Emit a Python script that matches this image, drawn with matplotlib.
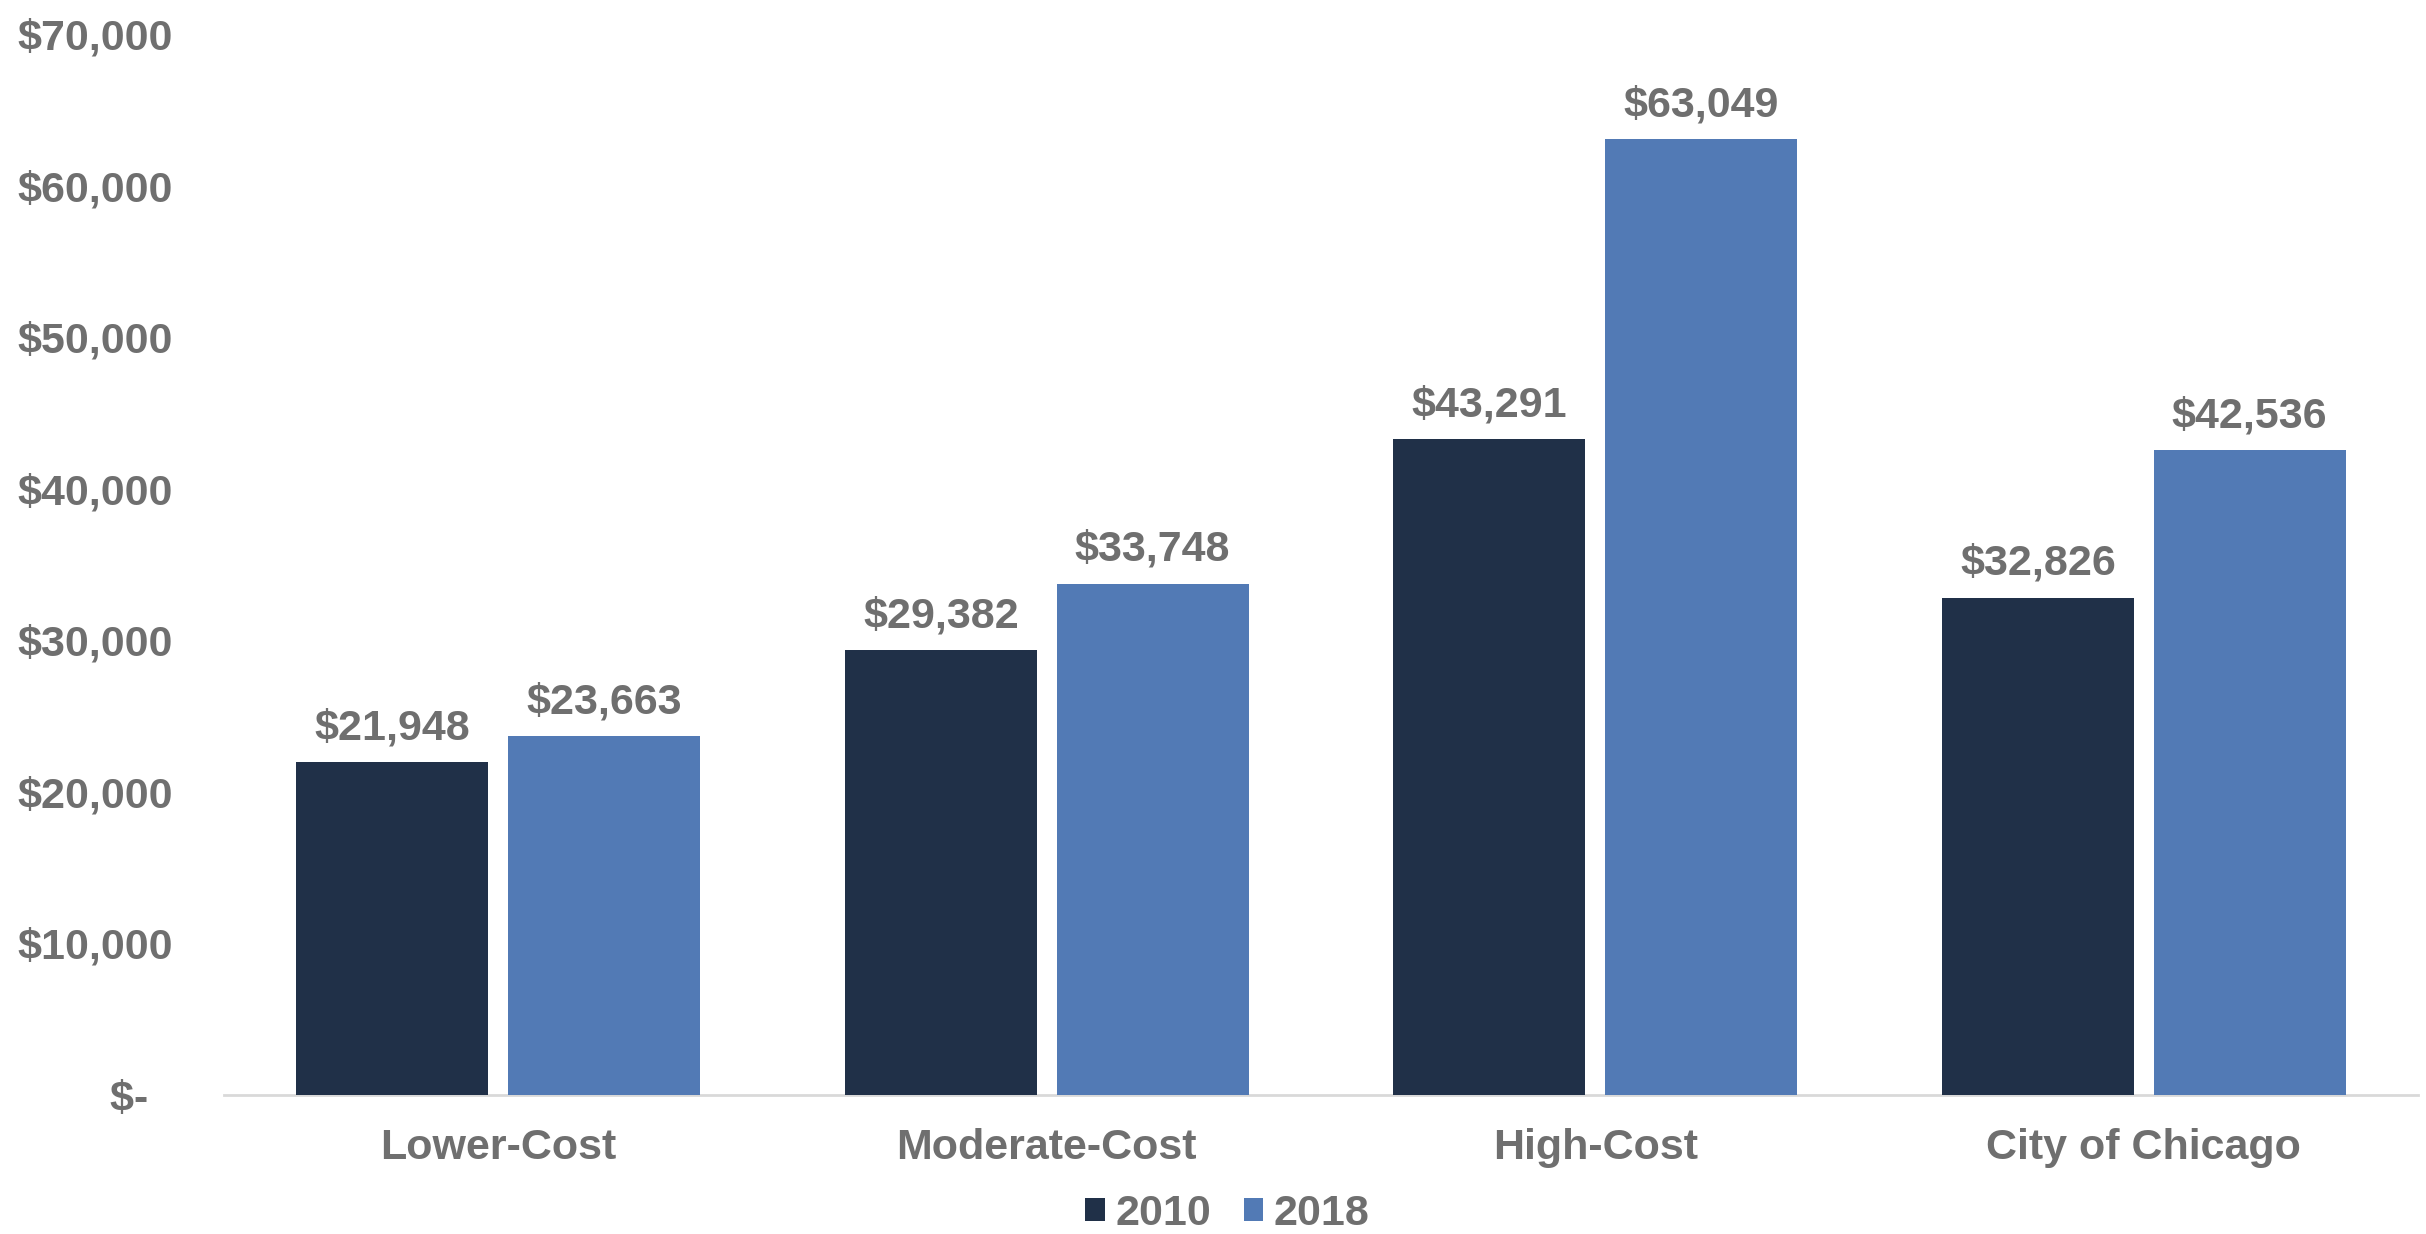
import numpy as np
import matplotlib
matplotlib.use("Agg")
import matplotlib.pyplot as plt

# median income by neighborhood cost tier
categories = ["Lower-Cost", "Moderate-Cost", "High-Cost", "City of Chicago"]
years = ["2010", "2018"]
vals_2010 = [21948, 29382, 43291, 32826]
vals_2018 = [23663, 33748, 63049, 42536]
yticks = [0, 10000, 20000, 30000, 40000, 50000, 60000, 70000]
ytick_labels = ["$-  ", "$10,000", "$20,000", "$30,000", "$40,000",
                "$50,000", "$60,000", "$70,000"]

c_2010 = "#203048"
c_2018 = "#527AB5"
grey = "#6F6F6F"
fs = 31

plt.rcParams["font.family"] = ["Liberation Sans", "DejaVu Sans"]
plt.rcParams["font.weight"] = "bold"

fig = plt.figure(figsize=(24.26, 12.34), dpi=100)
ax = fig.add_axes([0.0923, 0.1126, 0.9044, 0.8598])

x = np.arange(len(categories))
w = 0.35
off = 0.193
b1 = ax.bar(x - off, vals_2010, w, color=c_2010, label=years[0], zorder=3)
b2 = ax.bar(x + off, vals_2018, w, color=c_2018, label=years[1], zorder=3)

for bars, vals in ((b1, vals_2010), (b2, vals_2018)):
    for r, v in zip(bars, vals):
        ax.text(r.get_x() + r.get_width() / 2, v + 900, f"${v:,}",
                ha="center", va="bottom", fontsize=fs, color=grey,
                fontweight="bold")

ax.set_xlim(-0.5, len(categories) - 0.5)
ax.set_ylim(0, 70000)
ax.set_yticks(yticks)
ax.set_yticklabels(ytick_labels)
ax.set_xticks(x)
ax.set_xticklabels(categories)
ax.tick_params(axis="both", length=0, labelsize=fs, labelcolor=grey)
ax.tick_params(axis="y", pad=37)
ax.tick_params(axis="x", pad=24)
for lab in ax.get_xticklabels() + ax.get_yticklabels():
    lab.set_fontweight("bold")

for s in ["top", "right", "left"]:
    ax.spines[s].set_visible(False)
ax.spines["bottom"].set_color("#D9D9D9")
ax.spines["bottom"].set_linewidth(2)

leg = fig.legend(handles=[b1, b2], labels=years, loc="center",
                 bbox_to_anchor=(0.506, 0.016), ncol=2, frameon=False,
                 fontsize=fs, handlelength=0.45, handleheight=0.45,
                 handletextpad=0.25, columnspacing=0.75, borderaxespad=0)
for t in leg.get_texts():
    t.set_color(grey)
    t.set_fontweight("bold")

fig.savefig("out.png", dpi=100)
